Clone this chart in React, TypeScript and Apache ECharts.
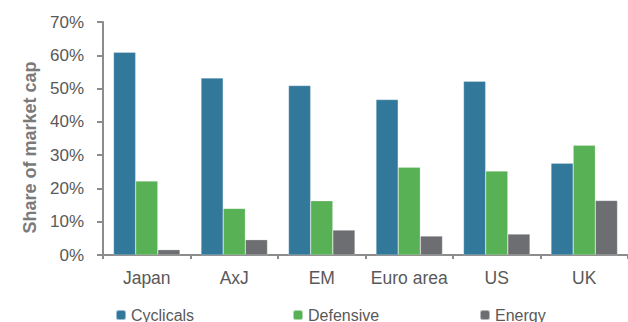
import React, { useEffect, useRef } from "react";
import * as echarts from "echarts";

const categories = ["Japan", "AxJ", "EM", "Euro area", "US", "UK"];
const cyclicals = [60.9, 53.2, 50.9, 46.7, 52.2, 27.6];
const defensive = [22.2, 14.0, 16.3, 26.4, 25.2, 33.0];
const energy = [1.6, 4.6, 7.5, 5.7, 6.3, 16.4];
const yTicks = [0, 10, 20, 30, 40, 50, 60, 70];

const COLORS = { cyc: "#31789b", def: "#58b154", ene: "#6d6e71" };
const FONT = "'Liberation Sans', Arial, sans-serif";
const TEXT = "#595959";
const AXIS = "#8c8c8c";

export default function App() {
  const ref = useRef<HTMLDivElement>(null);

  useEffect(() => {
    if (!ref.current) return;
    const chart = echarts.init(ref.current, null, { renderer: "svg" });

    const legendBase = {
      top: 307,
      padding: 0,
      itemWidth: 10,
      itemHeight: 10,
      itemGap: 0,
      icon: "roundRect",
      selectedMode: false,
      textStyle: {
        color: TEXT,
        fontFamily: FONT,
        fontSize: 16,
        padding: [14, 0, 0, 0],
      },
    };

    chart.setOption({
      animation: false,
      textStyle: { fontFamily: FONT },
      grid: { left: 103, right: 0, top: 22, bottom: 67, containLabel: false },
      legend: [
        { ...legendBase, left: 115, data: ["Cyclicals"] },
        { ...legendBase, left: 292, data: ["Defensive"] },
        { ...legendBase, left: 479, data: ["Energy"] },
      ],
      xAxis: {
        type: "category",
        data: categories,
        axisLine: { lineStyle: { color: AXIS, width: 2 } },
        axisTick: { show: true, length: 4, lineStyle: { color: AXIS, width: 2 } },
        axisLabel: {
          color: TEXT,
          fontSize: 17.5,
          margin: 14,
          fontFamily: FONT,
          interval: 0,
          hideOverlap: false,
        },
      },
      yAxis: {
        type: "value",
        min: yTicks[0],
        max: yTicks[yTicks.length - 1],
        interval: 10,
        name: "Share of market cap",
        nameLocation: "middle",
        nameGap: 64,
        nameTextStyle: {
          color: "#7a7a7a",
          fontSize: 18,
          fontWeight: "bold",
          fontFamily: FONT,
          padding: [0, 18, 0, 0],
        },
        axisLine: { show: true, lineStyle: { color: AXIS, width: 2 } },
        axisTick: { show: true, length: 6, lineStyle: { color: AXIS, width: 2 } },
        splitLine: { show: false },
        axisLabel: {
          color: TEXT,
          fontSize: 17,
          margin: 19,
          fontFamily: FONT,
          formatter: (v: number) => `${v}%`,
        },
      },
      series: [
        {
          name: "Cyclicals",
          type: "bar",
          data: cyclicals,
          barGap: "0%",
          barCategoryGap: "24%",
          itemStyle: { color: COLORS.cyc, borderColor: "rgba(255,255,255,0.5)", borderWidth: 0.5 },
        },
        {
          name: "Defensive",
          type: "bar",
          data: defensive,
          itemStyle: { color: COLORS.def, borderColor: "rgba(255,255,255,0.5)", borderWidth: 0.5 },
        },
        {
          name: "Energy",
          type: "bar",
          data: energy,
          itemStyle: { color: COLORS.ene, borderColor: "rgba(255,255,255,0.5)", borderWidth: 0.5 },
        },
      ],
    });

    return () => chart.dispose();
  }, []);

  return (
    <div
      ref={ref}
      style={{ position: "fixed", left: 0, top: 0, width: 628, height: 322, background: "#fff" }}
    />
  );
}
